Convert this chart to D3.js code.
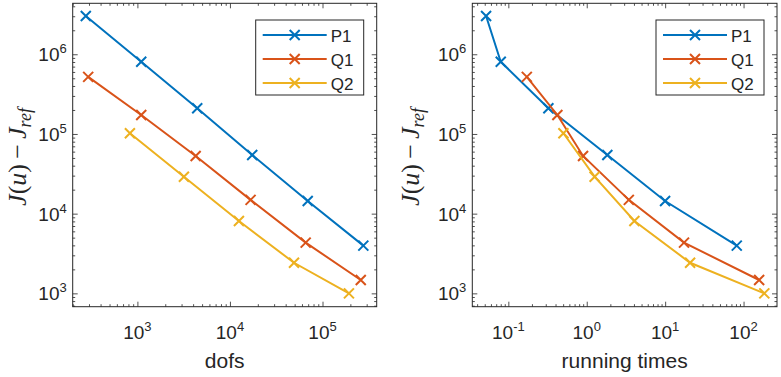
<!DOCTYPE html>
<html>
<head>
<meta charset="utf-8">
<script src="https://cdn.jsdelivr.net/npm/d3@7"></script>
<style>
  body { margin: 0; background: #fff; }
  text { font-family: "Liberation Sans", Arial, sans-serif; fill: #262626; }
</style>
</head>
<body>
<script>
// data
var seriesNames = ["P1", "Q1", "Q2"];
var seriesColors = ["#0072BD", "#D95319", "#EDB120"];

var dofsP1 = [277, 1100, 4430, 17400, 69200, 276000];
var dofsQ1 = [294, 1100, 4260, 16700, 65800, 259000];
var dofsQ2 = [830, 3180, 12500, 49200, 193000];

var timeP1 = [0.052, 0.080, 0.324, 1.83, 9.98, 81.9];
var timeQ1 = [0.172, 0.422, 0.897, 3.44, 17.4, 158];
var timeQ2 = [0.504, 1.26, 4.05, 20.8, 184];

var errP1 = [3.02e6, 8.07e5, 2.10e5, 5.45e4, 1.44e4, 3.97e3];
var errQ1 = [5.2e5, 1.73e5, 5.3e4, 1.49e4, 4.33e3, 1.47e3];
var errQ2 = [1.02e5, 2.91e4, 8.1e3, 2.42e3, 1.0e3];

var yTickExps = [3, 4, 5, 6];
var dofsTickExps = [3, 4, 5];
var timeTickExps = [-1, 0, 1, 2];

var width = 781, height = 377;

var svg = d3.select("body").append("svg")
  .attr("width", width).attr("height", height);

// minor ticks 2..9 of every decade inside a domain
function minorTicks(domain) {
  var out = [];
  var lo = Math.floor(Math.log10(domain[0])), hi = Math.ceil(Math.log10(domain[1]));
  for (var e = lo; e <= hi; e++) {
    for (var m = 2; m <= 9; m++) {
      var v = m * Math.pow(10, e);
      if (v >= domain[0] && v <= domain[1]) out.push(v);
    }
  }
  return out;
}

function drawPanel(opt) {
  var g = svg.append("g");
  var x = d3.scaleLog().domain(opt.xDomain).range([opt.left, opt.right]);
  var y = d3.scaleLog().domain([680, 4.36e6]).range([306.7, 3.3]);

  var majX = opt.xExps.map(e => Math.pow(10, e));
  var majY = yTickExps.map(e => Math.pow(10, e));

  // series
  opt.xs.forEach((xs, i) => {
    var pts = xs.map((v, j) => [v, opt.ys[i][j]]);
    g.append("path")
      .datum(pts)
      .attr("fill", "none")
      .attr("stroke", seriesColors[i])
      .attr("stroke-width", 2)
      .attr("d", d3.line().x(d => x(d[0])).y(d => y(d[1])));
    g.selectAll(null)
      .data(pts)
      .enter().append("path")
      .attr("transform", d => "translate(" + x(d[0]) + "," + y(d[1]) + ")")
      .attr("d", "M-5,-5L5,5M-5,5L5,-5")
      .attr("stroke", seriesColors[i])
      .attr("stroke-width", 2);
  });

  // axes, ticks pointing inward, on all four sides
  function addAxis(axis, tr) {
    var a = g.append("g").attr("transform", tr).call(axis);
    a.select(".domain").remove();
    a.selectAll("line").attr("stroke", "#262626").attr("stroke-width", 0.8);
    a.selectAll("text").remove();
    return a;
  }
  var by = y.range()[0], ty = y.range()[1];
  addAxis(d3.axisBottom(x).tickValues(majX).tickSize(-5), "translate(0," + by + ")");
  addAxis(d3.axisBottom(x).tickValues(minorTicks(opt.xDomain)).tickSize(-2.5), "translate(0," + by + ")");
  addAxis(d3.axisTop(x).tickValues(majX).tickSize(-5), "translate(0," + ty + ")");
  addAxis(d3.axisTop(x).tickValues(minorTicks(opt.xDomain)).tickSize(-2.5), "translate(0," + ty + ")");
  addAxis(d3.axisLeft(y).tickValues(majY).tickSize(-5), "translate(" + opt.left + ",0)");
  addAxis(d3.axisLeft(y).tickValues(minorTicks(y.domain())).tickSize(-2.5), "translate(" + opt.left + ",0)");
  addAxis(d3.axisRight(y).tickValues(majY).tickSize(-5), "translate(" + opt.right + ",0)");
  addAxis(d3.axisRight(y).tickValues(minorTicks(y.domain())).tickSize(-2.5), "translate(" + opt.right + ",0)");

  g.append("rect")
    .attr("x", opt.left).attr("y", ty)
    .attr("width", opt.right - opt.left).attr("height", by - ty)
    .attr("fill", "none").attr("stroke", "#262626").attr("stroke-width", 1);

  // tick labels as 10^n
  opt.xExps.forEach(e => {
    var t = g.append("text")
      .attr("x", x(Math.pow(10, e))).attr("y", 339)
      .attr("text-anchor", "middle")
      .style("font-size", "19px");
    t.append("tspan").text("10");
    t.append("tspan").attr("dy", -8).style("font-size", "13px").text(e);
  });
  yTickExps.forEach(e => {
    var t = g.append("text")
      .attr("x", opt.left - 6).attr("y", y(Math.pow(10, e)) + 7)
      .attr("text-anchor", "end")
      .style("font-size", "19px");
    t.append("tspan").text("10");
    t.append("tspan").attr("dy", -8).style("font-size", "13px").text(e);
  });

  g.append("text")
    .attr("x", (opt.left + opt.right) / 2).attr("y", 368)
    .attr("text-anchor", "middle")
    .style("font-size", "21px")
    .text(opt.xLabel);

  var yl = g.append("text")
    .attr("transform", "translate(" + opt.yLabelX + ",157) rotate(-90)")
    .attr("text-anchor", "middle")
    .style("font-family", "'Liberation Serif', serif")
    .style("font-size", "26px");
  yl.append("tspan").style("font-style", "italic").text("J");
  yl.append("tspan").text("(");
  yl.append("tspan").style("font-style", "italic").text("u");
  yl.append("tspan").text(")\u2009\u2212\u2009");
  yl.append("tspan").style("font-style", "italic").text("J");
  yl.append("tspan").attr("dy", 5).style("font-style", "italic").style("font-size", "18px").text("ref");

  // legend
  var lx = opt.right - 121, ly = 20;
  g.append("rect")
    .attr("x", lx).attr("y", ly).attr("width", 108).attr("height", 75)
    .attr("fill", "#fff").attr("stroke", "#262626").attr("stroke-width", 1);
  seriesNames.forEach((n, i) => {
    var ry = ly + 15 + i * 24;
    g.append("line")
      .attr("x1", lx + 7).attr("x2", lx + 71).attr("y1", ry).attr("y2", ry)
      .attr("stroke", seriesColors[i]).attr("stroke-width", 2);
    g.append("path")
      .attr("transform", "translate(" + (lx + 39) + "," + ry + ")")
      .attr("d", "M-5,-5L5,5M-5,5L5,-5")
      .attr("stroke", seriesColors[i]).attr("stroke-width", 2);
    g.append("text")
      .attr("x", lx + 75).attr("y", ry + 6.5)
      .style("font-size", "17px")
      .text(n);
  });
}

drawPanel({
  left: 72.7, right: 376.7,
  xDomain: [200, 3.85e5],
  xExps: dofsTickExps,
  xs: [dofsP1, dofsQ1, dofsQ2],
  ys: [errP1, errQ1, errQ2],
  xLabel: "dofs",
  yLabelX: 26
});

drawPanel({
  left: 472.3, right: 777,
  xDomain: [0.0347, 267],
  xExps: timeTickExps,
  xs: [timeP1, timeQ1, timeQ2],
  ys: [errP1, errQ1, errQ2],
  xLabel: "running times",
  yLabelX: 419
});
</script>
</body>
</html>
